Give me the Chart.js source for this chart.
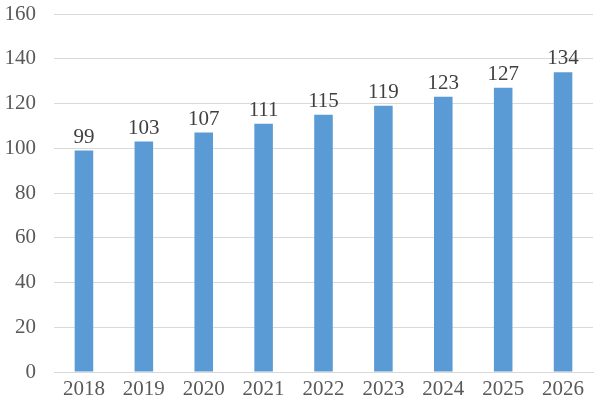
<!DOCTYPE html>
<html>
<head>
<meta charset="utf-8">
<script src="https://cdn.jsdelivr.net/npm/chart.js@4/dist/chart.umd.min.js"></script>
<style>
html,body{margin:0;padding:0;background:#fff;}
#wrap{width:600px;height:411px;position:relative;}
</style>
</head>
<body>
<div id="wrap"><canvas id="c" width="600" height="411"></canvas></div>
<script>
const categories = ['2018','2019','2020','2021','2022','2023','2024','2025','2026'];
const values = [99,103,107,111,115,119,123,127,134];
const yTicks = [0,20,40,60,80,100,120,140,160];

const FONT = '"Liberation Serif", "DejaVu Serif", serif';
const TEXT = '#595959';

const labelPlugin = {
  id: 'barLabels',
  afterDatasetsDraw(chart) {
    const ctx = chart.ctx;
    const meta = chart.getDatasetMeta(0);
    ctx.save();
    ctx.font = '21px ' + FONT;
    ctx.fillStyle = '#404040';
    ctx.textAlign = 'center';
    ctx.textBaseline = 'bottom';
    meta.data.forEach((bar, i) => {
      ctx.fillText(String(values[i]), bar.x, bar.y - 3);
    });
    ctx.restore();
  }
};

new Chart(document.getElementById('c'), {
  type: 'bar',
  data: {
    labels: categories,
    datasets: [{
      data: values,
      backgroundColor: '#5B9BD5',
      borderWidth: 0,
      categoryPercentage: 1,
      barPercentage: 0.31
    }]
  },
  options: {
    responsive: false,
    animation: false,
    devicePixelRatio: 1,
    layout: { padding: { left: 0, right: 7, top: 14, bottom: 0 } },
    plugins: { legend: { display: false }, tooltip: { enabled: false } },
    scales: {
      x: {
        grid: { display: false, drawTicks: false },
        border: { display: true, color: '#D9D9D9' },
        ticks: { color: TEXT, font: { family: FONT, size: 21 }, padding: 5, maxRotation: 0 },
        afterFit(s) { s.height = 39; s.paddingLeft = 0; s.paddingRight = 0; }
      },
      y: {
        min: 0, max: 160,
        afterBuildTicks(s) { s.ticks = yTicks.map(v => ({ value: v })); },
        grid: { color: '#D9D9D9', drawTicks: false },
        border: { display: false },
        ticks: { color: TEXT, font: { family: FONT, size: 21 }, padding: 18 },
        afterFit(s) { s.width = 54; s.paddingTop = 0; s.paddingBottom = 0; }
      }
    }
  },
  plugins: [labelPlugin]
});
</script>
</body>
</html>
